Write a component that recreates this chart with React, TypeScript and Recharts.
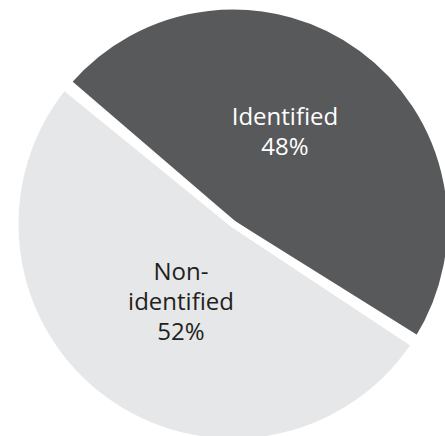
import { PieChart, Pie, Cell } from 'recharts';

const categories = ['Identified', 'Non-identified'];
const shares = [48, 52];
// how each category label is broken over lines inside its slice
const labelLines = [['Identified'], ['Non-', 'identified']];

const sliceColors = ['#58595b', '#e6e7e8'];
const textColors = ['#ffffff', '#231f20'];

const data = categories.map((name, i) => ({ name, value: shares[i] }));

const RADIAN = Math.PI / 180;

const renderLabel = (props: any) => {
  const { cx, cy, midAngle, index, value } = props;
  const angle = (midAngle + 5) * RADIAN;
  const r = 100;
  const x = cx + r * Math.cos(angle);
  const y = cy - r * Math.sin(angle) - 8;
  const lines = [...labelLines[index], `${value}%`];
  const lineHeight = 30;
  const firstBaseline = y - ((lines.length - 1) * lineHeight) / 2 + 9;
  return (
    <text
      x={x}
      y={firstBaseline}
      textAnchor="middle"
      fill={textColors[index]}
      fontFamily="'Open Sans', sans-serif"
      fontSize={24}
    >
      {lines.map((line, i) => (
        <tspan key={i} x={x} y={firstBaseline + i * lineHeight}>
          {line}
        </tspan>
      ))}
    </text>
  );
};

export default function App() {
  return (
    <div style={{ position: 'absolute', left: 0, top: 0, width: 445, height: 436, background: '#fff' }}>
      <PieChart width={445} height={436} margin={{ top: 0, right: 0, bottom: 0, left: 0 }}>
        <Pie
          data={data}
          dataKey="value"
          nameKey="name"
          cx={233}
          cy={224}
          outerRadius={218}
          startAngle={-32}
          endAngle={328}
          paddingAngle={1.5}
          stroke="#ffffff"
          strokeWidth={7}
          label={renderLabel}
          labelLine={false}
          isAnimationActive={false}
        >
          {data.map((d, i) => (
            <Cell key={d.name} fill={sliceColors[i]} />
          ))}
        </Pie>
      </PieChart>
    </div>
  );
}
